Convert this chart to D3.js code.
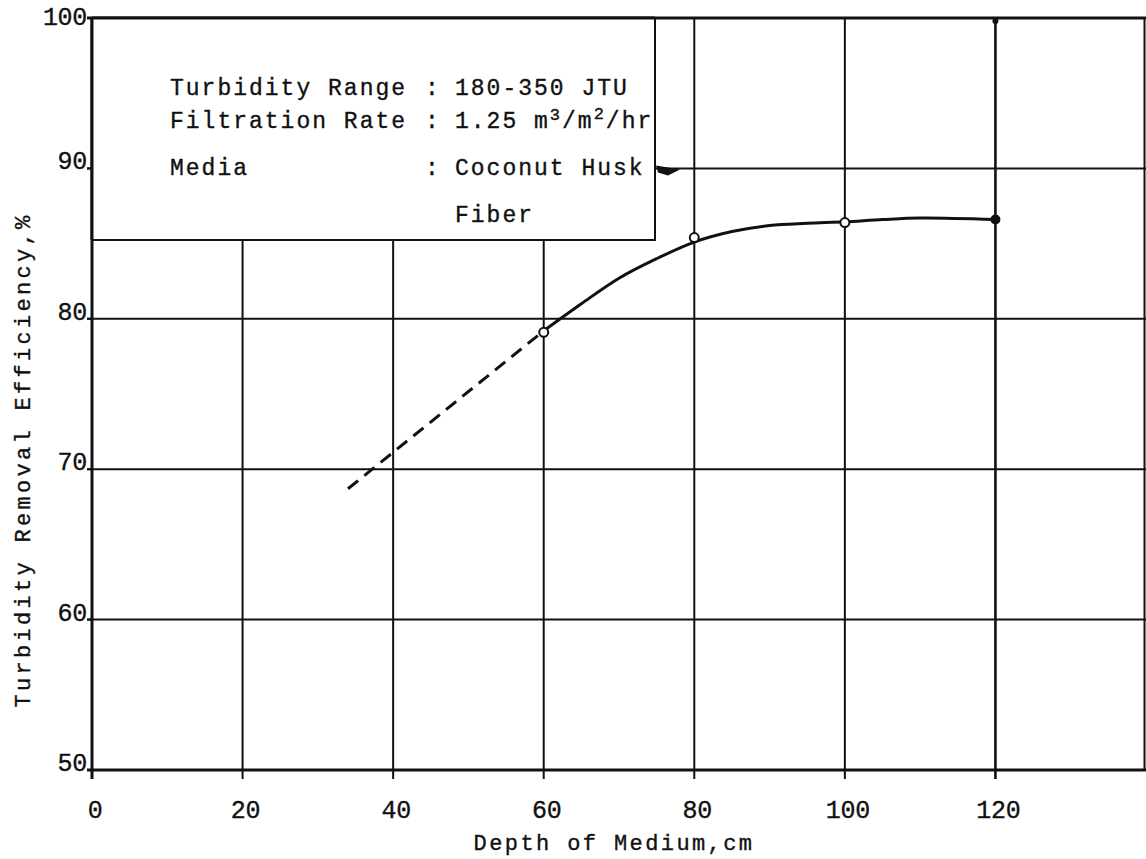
<!DOCTYPE html>
<html>
<head>
<meta charset="utf-8">
<script src="https://cdn.jsdelivr.net/npm/d3@7"></script>
<style>
  html, body { margin: 0; padding: 0; background: #fff; }
  svg { display: block; }
  text { font-family: "Liberation Mono", "DejaVu Sans Mono", monospace; fill: #111; stroke: #111; stroke-width: 0.35px; }
</style>
</head>
<body>
<svg id="chart" width="1146" height="859"></svg>
<script>
// Axis ticks
const xTicks = [0, 20, 40, 60, 80, 100, 120];
const yTicks = [50, 60, 70, 80, 90, 100];

// Measured points (depth in cm, removal efficiency in %)
const pointDepth = [60, 80, 100, 120];
const pointEff = [79.1, 85.4, 86.4, 86.6];
const pointFilled = [false, false, false, true];

// Fitted curve through the measurements
const curveDepth = [60, 65, 70, 75, 80, 85, 90, 95, 100, 105, 110, 120];
const curveEff = [79.2, 81.0, 82.7, 84.0, 85.1, 85.8, 86.2, 86.35, 86.45, 86.6, 86.7, 86.6];

// Extrapolated (dashed) segment
const extrapDepth = [34, 60];
const extrapEff = [68.7, 79.2];

// Legend text
const legendLabels = ["Turbidity Range", "Filtration Rate", "Media"];

const svg = d3.select("#chart");
const x = d3.scaleLinear().domain([0, 140]).range([92, 1146]);
const y = d3.scaleLinear().domain([50, 100]).range([770, 18]);

const ink = "#111";

// Grid lines
const grid = svg.append("g");
grid.selectAll("line.v").data(xTicks.filter(d => d > 0)).join("line")
  .attr("x1", d => x(d)).attr("x2", d => x(d))
  .attr("y1", y(100)).attr("y2", y(50) + 9)
  .attr("stroke", ink).attr("stroke-width", d => d === 120 ? 2.6 : 2);
grid.selectAll("line.h").data(yTicks.filter(d => d > 50)).join("line")
  .attr("x1", x(0) - 5).attr("x2", x(140))
  .attr("y1", d => y(d)).attr("y2", d => y(d))
  .attr("stroke", ink).attr("stroke-width", d => d === 100 ? 3 : 2);

// Right border
svg.append("line")
  .attr("x1", x(140) - 1.5).attr("x2", x(140) - 1.5)
  .attr("y1", y(100)).attr("y2", y(50))
  .attr("stroke", ink).attr("stroke-width", 2);

// Axes lines
svg.append("line").attr("x1", x(0)).attr("x2", x(0)).attr("y1", y(100)).attr("y2", y(50) + 9)
  .attr("stroke", ink).attr("stroke-width", 3);
svg.append("line").attr("x1", x(0) - 5).attr("x2", x(140)).attr("y1", y(50)).attr("y2", y(50))
  .attr("stroke", ink).attr("stroke-width", 3);

// Legend box (covers the grid beneath it)
const lg = svg.append("g");
lg.append("rect")
  .attr("x", x(0)).attr("y", y(100))
  .attr("width", 563).attr("height", 222)
  .attr("fill", "#fff").attr("stroke", ink).attr("stroke-width", 2);
// redraw the top and left edges crisp over the box
lg.append("line").attr("x1", x(0)).attr("x2", x(0)).attr("y1", y(100)).attr("y2", y(100) + 222)
  .attr("stroke", ink).attr("stroke-width", 3);
lg.append("line").attr("x1", x(0)).attr("x2", x(0) + 563).attr("y1", y(100)).attr("y2", y(100))
  .attr("stroke", ink).attr("stroke-width", 3);

const legendBaselines = [95, 128, 175];
const legFont = { size: 23, spacing: 2 };
lg.selectAll("text.lab").data(legendLabels).join("text")
  .attr("x", 170).attr("y", (d, i) => legendBaselines[i])
  .attr("font-size", legFont.size).attr("letter-spacing", legFont.spacing)
  .text(d => d);
lg.selectAll("text.colon").data(legendLabels).join("text")
  .attr("x", 425).attr("y", (d, i) => legendBaselines[i])
  .attr("font-size", legFont.size)
  .text(":");
lg.append("text").attr("x", 455).attr("y", legendBaselines[0])
  .attr("font-size", legFont.size).attr("letter-spacing", legFont.spacing)
  .text("180-350 JTU");
const rate = lg.append("text").attr("x", 455).attr("y", legendBaselines[1])
  .attr("font-size", legFont.size).attr("letter-spacing", legFont.spacing);
rate.append("tspan").text("1.25 m");
rate.append("tspan").attr("dy", -8).attr("font-size", 17).text("3");
rate.append("tspan").attr("dy", 8).text("/m");
rate.append("tspan").attr("dy", -9).attr("font-size", 17).text("2");
rate.append("tspan").attr("dy", 9).text("/hr");
lg.append("text").attr("x", 455).attr("y", legendBaselines[2])
  .attr("font-size", legFont.size).attr("letter-spacing", legFont.spacing)
  .text("Coconut Husk");
lg.append("text").attr("x", 455).attr("y", 222)
  .attr("font-size", legFont.size).attr("letter-spacing", legFont.spacing)
  .text("Fiber");

// Small wedge where the 90% line leaves the legend box
svg.append("path")
  .attr("d", `M${x(0) + 564},${y(90) - 3} L${x(0) + 588},${y(90) + 1} L${x(0) + 576},${y(90) + 7} L${x(0) + 566},${y(90) + 4} Z`)
  .attr("fill", ink);

// Dot at top of the 120 cm grid line
svg.append("circle").attr("cx", x(120)).attr("cy", y(100) + 3).attr("r", 3).attr("fill", ink);

// Tick marks
svg.selectAll("line.ty").data(yTicks).join("line")
  .attr("x1", x(0) - 5).attr("x2", x(0)).attr("y1", d => y(d)).attr("y2", d => y(d))
  .attr("stroke", ink).attr("stroke-width", 2);

// Tick labels
svg.selectAll("text.xt").data(xTicks).join("text")
  .attr("x", d => x(d) + 3).attr("y", 818)
  .attr("text-anchor", "middle").attr("font-size", 25).attr("letter-spacing", -0.3)
  .text(d => d);
svg.selectAll("text.yt").data(yTicks).join("text")
  .attr("x", x(0) - 5).attr("y", d => Math.max(y(d) + 1, 25))
  .attr("text-anchor", "end").attr("font-size", 25).attr("letter-spacing", -0.3)
  .text(d => d);

// Axis titles
svg.append("text")
  .attr("x", 614).attr("y", 850)
  .attr("text-anchor", "middle").attr("font-size", 22).attr("letter-spacing", 2.4)
  .text("Depth of Medium,cm");
svg.append("text")
  .attr("transform", "translate(30,460) rotate(-90)")
  .attr("text-anchor", "middle").attr("font-size", 22).attr("letter-spacing", 3.3)
  .text("Turbidity Removal Efficiency,%");

// Extrapolated dashed line
svg.append("path")
  .datum(extrapDepth.map((d, i) => [d, extrapEff[i]]))
  .attr("d", d3.line().x(d => x(d[0])).y(d => y(d[1])))
  .attr("fill", "none").attr("stroke", ink).attr("stroke-width", 3)
  .attr("stroke-dasharray", "13,8");

// Fitted curve
svg.append("path")
  .datum(curveDepth.map((d, i) => [d, curveEff[i]]))
  .attr("d", d3.line().curve(d3.curveCatmullRom).x(d => x(d[0])).y(d => y(d[1])))
  .attr("fill", "none").attr("stroke", ink).attr("stroke-width", 3);

// Measured points
svg.selectAll("circle.pt").data(pointDepth.map((d, i) => ({ d, e: pointEff[i], f: pointFilled[i] }))).join("circle")
  .attr("cx", p => x(p.d)).attr("cy", p => y(p.e))
  .attr("r", p => p.f ? 4 : 4.5)
  .attr("fill", p => p.f ? ink : "#fff")
  .attr("stroke", ink).attr("stroke-width", 2);
</script>
</body>
</html>
